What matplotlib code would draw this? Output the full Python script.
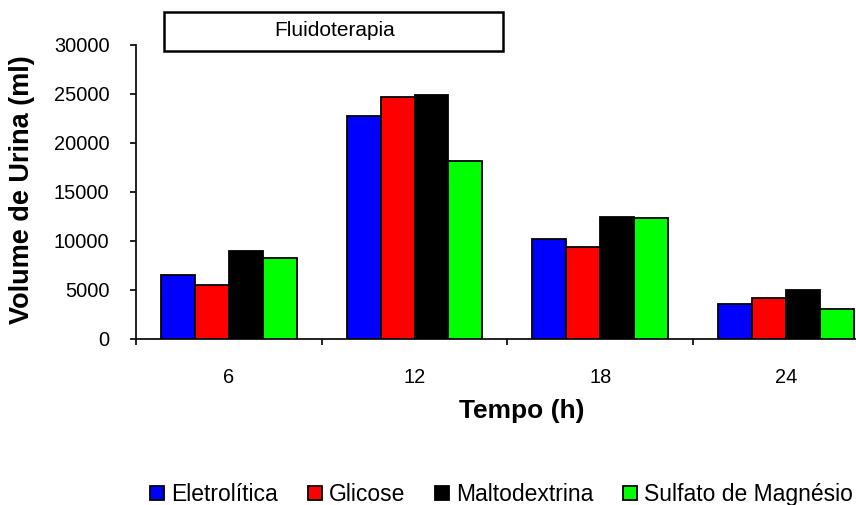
import numpy as np
import matplotlib
matplotlib.use('Agg')
import matplotlib.pyplot as plt
from matplotlib.patches import Rectangle

plt.rcParams['font.family'] = ['Liberation Sans', 'DejaVu Sans']

# data
tempos = ['6', '12', '18', '24']
series_names = ['Eletrolítica', 'Glicose', 'Maltodextrina', 'Sulfato de Magnésio']
eletrolitica = [6450, 22700, 10200, 3550]
glicose = [5500, 24650, 9400, 4150]
maltodextrina = [8950, 24850, 12400, 4990]
sulfato = [8250, 18100, 12350, 3050]
colors = ['#0000FF', '#FF0000', '#000000', '#00FF00']

W, H = 856, 505
fig = plt.figure(figsize=(W / 100, H / 100), dpi=100)

# axes extends past the right edge, like the cropped original
left, right = 136 / W, 878.8 / W
bottom, top = 1 - 338.5 / H, 1 - 45 / H
ax = fig.add_axes([left, bottom, right - left, top - bottom])

x = np.arange(len(tempos))
w = 0.1826
all_series = [eletrolitica, glicose, maltodextrina, sulfato]
for i, (vals, c) in enumerate(zip(all_series, colors)):
    ax.bar(x + (i - 1.5) * w, vals, width=w, color=c, edgecolor='black',
           linewidth=1.3, zorder=3)

ax.set_xlim(-0.5, len(tempos) - 0.5)
ax.set_ylim(0, 30000)
ax.set_yticks(np.arange(0, 30001, 5000))
ax.set_xticks(x)
ax.set_xticklabels(tempos)
ax.set_xticks(np.arange(-0.5, len(tempos), 1), minor=True)

for s in ['top', 'right']:
    ax.spines[s].set_visible(False)
for s in ['left', 'bottom']:
    ax.spines[s].set_linewidth(1.3)
    ax.spines[s].set_color('#111111')

ax.tick_params(axis='y', length=4, width=1.3, pad=15, labelsize=14.4, color='#111111')
ax.tick_params(axis='x', which='major', length=0, pad=21, labelsize=14.4)
ax.tick_params(axis='x', which='minor', length=4, width=1.3, color='#111111')

fig.text(522 / W, 1 - 411 / H, 'Tempo (h)', ha='center', va='center',
         fontsize=19, fontweight='bold')
fig.text(22.5 / W, 1 - 190 / H, 'Volume de Urina (ml)', ha='center', va='center',
         rotation=90, fontsize=19.5, fontweight='bold')

# title box
fig.patches.append(Rectangle((164 / W, 1 - 51 / H), (503 - 164) / W, 39 / H,
                             transform=fig.transFigure, facecolor='white',
                             edgecolor='black', linewidth=1.8))
fig.text(334.5 / W, 1 - 31 / H, 'Fluidoterapia', ha='center', va='center', fontsize=15)

# legend drawn by hand so all labels share one baseline, spread from x=150 to x=853
renderer = fig.canvas.get_renderer()
texts = [fig.text(0, 1 - 501 / H, name, ha='left', va='baseline', fontsize=16.5)
         for name in series_names]
widths = [t.get_window_extent(renderer).width for t in texts]
gap = (853 - 150 - sum(widths) - 21 * len(texts)) / (len(texts) - 1)
lx = 150
for t, wd, c in zip(texts, widths, colors):
    fig.patches.append(Rectangle((lx / W, 1 - 500 / H), 14 / W, 14 / H,
                                 transform=fig.transFigure, facecolor=c,
                                 edgecolor='black', linewidth=1.3))
    t.set_x((lx + 21) / W)
    lx = lx + 21 + wd + gap

fig.savefig('out.png', dpi=100)
